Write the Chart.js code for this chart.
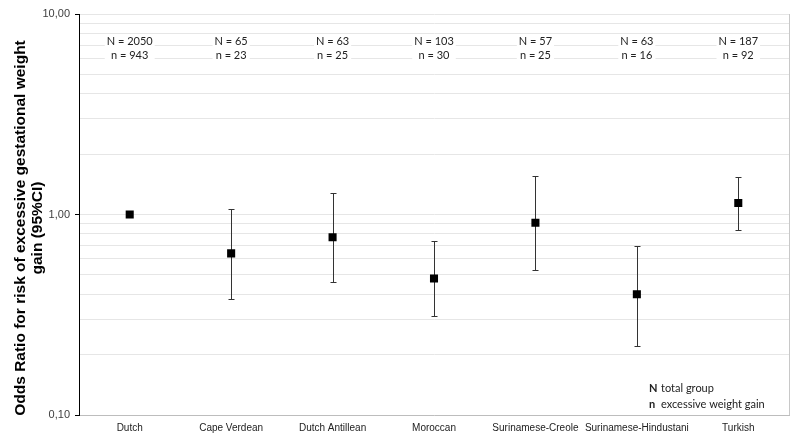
<!DOCTYPE html>
<html>
<head>
<meta charset="utf-8">
<script src="https://cdn.jsdelivr.net/npm/chart.js@4.4.1/dist/chart.umd.min.js"></script>
<style>
html,body{margin:0;padding:0;background:#fff;}
#wrap{width:800px;height:442px;}
</style>
</head>
<body>
<div id="wrap"><canvas id="c" width="800" height="442"></canvas></div>
<script>
const categories = ['Dutch','Cape Verdean','Dutch Antillean','Moroccan','Surinamese-Creole','Surinamese-Hindustani','Turkish'];
const oddsRatio = [1.00, 0.64, 0.77, 0.48, 0.91, 0.40, 1.14];
const ciLower   = [null, 0.38, 0.46, 0.31, 0.53, 0.22, 0.84];
const ciUpper   = [null, 1.07, 1.28, 0.74, 1.55, 0.70, 1.54];
const totalN    = [2050, 65, 63, 103, 57, 63, 187];
const excessN   = [943, 23, 25, 30, 25, 16, 92];
const yTicks = [0.1,0.2,0.3,0.4,0.5,0.6,0.7,0.8,0.9,1,2,3,4,5,6,7,8,9,10];
const yLabels = {0.1:'0,10', 1:'1,00', 10:'10,00'};
const yTitle = ['Odds Ratio for risk of excessive gestational weight','gain (95%CI)'];
const legendRows = [['N','total group'],['n','excessive weight gain']];

const isMajor = v => Math.abs(Math.log10(v) - Math.round(Math.log10(v))) < 1e-6;

const errorBars = {
  id:'errorBars',
  beforeDatasetsDraw(chart){
    const {ctx, scales:{x,y}} = chart;
    ctx.save();
    ctx.strokeStyle = '#333';
    ctx.lineWidth = 1;
    categories.forEach((c,i)=>{
      if (ciLower[i]==null) return;
      const px = Math.round(x.getPixelForValue(i)) + 0.5;
      const yl = Math.round(y.getPixelForValue(ciLower[i])) + 0.5;
      const yu = Math.round(y.getPixelForValue(ciUpper[i])) + 0.5;
      ctx.beginPath();
      ctx.moveTo(px, yu); ctx.lineTo(px, yl);
      ctx.moveTo(px-3, yu); ctx.lineTo(px+3, yu);
      ctx.moveTo(px-3, yl); ctx.lineTo(px+3, yl);
      ctx.stroke();
    });
    ctx.restore();
  }
};

const annotations = {
  id:'annotations',
  afterDraw(chart){
    const {ctx, scales:{x}, chartArea} = chart;
    ctx.save();
    ctx.strokeStyle = '#c8c8c8';
    ctx.lineWidth = 1;
    ctx.beginPath();
    ctx.moveTo(chartArea.right+0.5, chartArea.top);
    ctx.lineTo(chartArea.right+0.5, chartArea.bottom);
    ctx.stroke();
    ctx.font = '11px Lato';
    ctx.textAlign = 'center';
    ctx.textBaseline = 'middle';
    categories.forEach((c,i)=>{
      const px = x.getPixelForValue(i);
      const l1 = 'N = ' + totalN[i], l2 = 'n = ' + excessN[i];
      const w = Math.max(ctx.measureText(l1).width, ctx.measureText(l2).width);
      ctx.fillStyle = '#fff';
      ctx.fillRect(px - w/2 - 2, 34, w + 4, 27);
      ctx.fillStyle = '#222';
      ctx.fillText(l1, px, 41);
      ctx.fillText(l2, px, 55);
    });
    ctx.textAlign = 'left';
    legendRows.forEach((r,i)=>{
      const yy = 388 + i*16;
      ctx.font = 'bold 11px Lato';
      ctx.fillStyle = '#222';
      ctx.fillText(r[0], 649, yy);
      ctx.font = '11px Lato';
      ctx.fillText(r[1], 661, yy);
    });
    ctx.save();
    ctx.translate(0, 228);
    ctx.rotate(-Math.PI/2);
    ctx.font = 'bold 15.5px "Liberation Sans"';
    ctx.fillStyle = '#000';
    ctx.textAlign = 'center';
    ctx.textBaseline = 'middle';
    ctx.fillText(yTitle[0], 0, 21);
    ctx.fillText(yTitle[1], 0, 38);
    ctx.restore();
    ctx.restore();
  }
};

new Chart(document.getElementById('c'), {
  type:'line',
  data:{
    labels: categories,
    datasets:[{
      data: oddsRatio,
      showLine:false,
      pointStyle:'rect',
      pointRadius:5.7,
      pointHoverRadius:5.7,
      backgroundColor:'#000',
      borderColor:'#000',
      borderWidth:0
    }]
  },
  options:{
    responsive:false,
    animation:false,
    events:[],
    layout:{padding:{top:14,right:11,left:0,bottom:0}},
    plugins:{legend:{display:false}, tooltip:{enabled:false}},
    scales:{
      x:{
        type:'category',
        offset:true,
        grid:{display:false, drawTicks:false},
        border:{color:'#bdbdbd'},
        ticks:{color:'#222', font:{family:'Liberation Sans', size:10}, padding:7, maxRotation:0, autoSkip:false},
        afterFit(s){ s.height = 27; }
      },
      y:{
        type:'logarithmic',
        min:0.1, max:10,
        afterBuildTicks(s){ s.ticks = yTicks.map(v=>({value:v})); },
        ticks:{
          autoSkip:false,
          color:'#404040',
          font:{family:'Liberation Sans', size:11},
          padding:5,
          callback:(v)=> yLabels[v] !== undefined ? yLabels[v] : ''
        },
        grid:{
          color:'#e6e6e6',
          lineWidth:1,
          tickLength:4,
          tickColor:(ctx)=> (ctx.tick && isMajor(ctx.tick.value)) ? '#000' : 'rgba(0,0,0,0)'
        },
        border:{color:'#000', width:1},
        afterFit(s){ s.width = 79; }
      }
    }
  },
  plugins:[errorBars, annotations]
});
</script>
</body>
</html>
